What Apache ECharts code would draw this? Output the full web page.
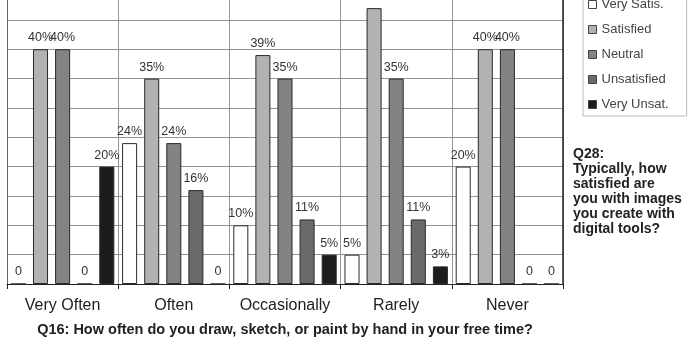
<!DOCTYPE html>
<html>
<head>
<meta charset="utf-8">
<script src="https://cdn.jsdelivr.net/npm/echarts@6/dist/echarts.min.js"></script>
<style>html,body{margin:0;padding:0;background:#fff;}#c{width:689px;height:347px;}</style>
</head>
<body>
<div id="c"></div>
<script>
var categories = ['Very Often', 'Often', 'Occasionally', 'Rarely', 'Never'];
var seriesNames = ['Very Satis.', 'Satisfied', 'Neutral', 'Unsatisfied', 'Very Unsat.'];
var verySatis   = [0, 24, 10, 5, 20];
var satisfied   = [40, 35, 39, 47, 40];
var neutral     = [40, 24, 35, 35, 40];
var unsatisfied = [0, 16, 11, 11, 0];
var veryUnsat   = [20, 0, 5, 3, 0];
var xTitle = 'Q16: How often do you draw, sketch, or paint by hand in your free time?';
var sideText = 'Q28:\nTypically, how\nsatisfied are\nyou with images\nyou create with\ndigital tools?';

var values = [verySatis, satisfied, neutral, unsatisfied, veryUnsat];
var fills = ['#ffffff', '#b2b2b2', '#838383', '#6a6a6a', '#1c1c1c'];
var FONT = "'Liberation Sans', Arial, sans-serif";

var chart = echarts.init(document.getElementById('c'), null, {renderer: 'canvas'});
var series = seriesNames.map(function (n, i) {
  return {
    name: n,
    type: 'bar',
    data: values[i],
    barGap: '47%',
    barCategoryGap: '7%',
    itemStyle: {color: fills[i], borderColor: '#2a2a2a', borderWidth: 1},
    label: {
      show: true,
      position: 'top',
      distance: 5,
      fontFamily: FONT,
      fontSize: 12.5,
      color: '#333',
      formatter: function (p) { return p.value === 0 ? '0' : p.value + '%'; }
    },
    emphasis: {disabled: true},
    animation: false
  };
});

chart.setOption({
  backgroundColor: '#ffffff',
  animation: false,
  grid: {left: 7, right: 126, top: -9.5, bottom: 63, containLabel: false, outerBoundsMode: 'none'},
  legend: {
    orient: 'vertical',
    left: 583,
    top: -7,
    padding: [5, 18, 5, 5],
    itemWidth: 8,
    itemHeight: 8,
    itemGap: 12,
    icon: 'rect',
    borderColor: '#bbb',
    borderWidth: 1,
    textStyle: {fontFamily: FONT, fontSize: 13, color: '#444'},
    itemStyle: {borderColor: '#444', borderWidth: 1},
    data: seriesNames
  },
  xAxis: {
    type: 'category',
    data: categories,
    axisLine: {show: true, lineStyle: {color: '#222', width: 1}},
    axisTick: {show: true, length: 5, lineStyle: {color: '#222'}},
    axisLabel: {interval: 0, fontFamily: FONT, fontSize: 16, color: '#222', margin: 14},
    splitLine: {show: true, interval: 0, lineStyle: {color: '#949494', width: 1}},
    name: xTitle,
    nameLocation: 'middle',
    nameGap: 38,
    nameTextStyle: {fontFamily: FONT, fontSize: 14.5, fontWeight: 'bold', color: '#222'}
  },
  yAxis: [{
    type: 'value',
    min: 0,
    max: 50,
    interval: 5,
    axisLabel: {show: false},
    axisTick: {show: false},
    axisLine: {show: true, lineStyle: {color: '#666'}},
    splitLine: {show: true, lineStyle: {color: '#949494', width: 1}}
  }, {
    type: 'value',
    position: 'right',
    min: 0,
    max: 50,
    interval: 5,
    axisLabel: {show: false},
    axisTick: {show: false},
    axisLine: {show: true, lineStyle: {color: '#222', width: 1.5}},
    splitLine: {show: false}
  }],
  graphic: [{
    type: 'text',
    left: 573,
    top: 147,
    style: {
      text: sideText,
      fontFamily: FONT,
      fontSize: 14,
      fontWeight: 'bold',
      lineHeight: 15,
      fill: '#222'
    }
  }],
  series: series
});
</script>
</body>
</html>
